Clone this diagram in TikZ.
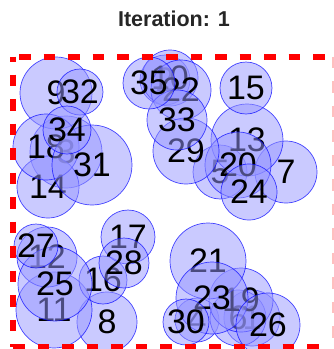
\documentclass[tikz,border=0pt]{standalone}
\usepackage{fontspec}
\setmainfont{Liberation Sans}
\definecolor{discfill}{RGB}{150,150,255}
\begin{document}
\begin{tikzpicture}[x=1pt,y=-1pt,
  disc/.style={circle, inner sep=0pt, minimum size=#1, draw=blue, draw opacity=0.7,
               fill=discfill, fill opacity=0.5, line width=0.7pt},
  lbl/.style={font=\fontsize{34}{34}\selectfont, inner sep=0pt, text=black},
  edge/.style={red, line width=6pt, dash pattern=on 11.5pt off 13pt}]
\useasboundingbox (0,0) rectangle (334,349);
% title
\node[font=\bfseries\fontsize{21.5}{21.5}\selectfont, anchor=base, text=black!85] (title) at (174,26.7) {Iteration: 1};
% discs, each followed by its number
\foreach \n/\x/\y/\r in {
  1/252/318/28, 2/165/80/25, 3/66/152/36, 4/197/320/22, 5/220/172/27,
  6/238/318/28, 7/286/172/31, 8/107/322/30, 9/56/93/36, 10/170/78/28,
  11/54/310/38, 12/47/257/30, 13/247/140/36, 14/48/187/31, 15/246/88/26,
  16/103/280/24, 17/128/237/27, 18/46/147/33, 19/241/300/32, 20/238/165/33,
  21/208/261/38, 22/181/90/30, 23/212/298/36, 24/249/192/28, 25/55/284/37,
  26/268/325/32, 27/36/246/22, 28/124/263/25, 29/186/151/33, 30/186/322/23,
  31/92/165/40, 32/80/92/23, 33/177/120/30, 34/67/130/24, 35/149/83/26} {
  \node[disc=2*\r pt] (c\n) at (\x,\y) {};
  \node[lbl] (l\n) at (\x,\y) {\n};
}
% dashed frame
\coordinate (tl) at (13,56.5);
\coordinate (tr) at (331,56.5);
\coordinate (bl) at (13,347);
\coordinate (br) at (331,347);
\coordinate (rt) at (333,56.5);
\coordinate (rb) at (333,347);
\draw[edge, dash phase=18.5pt] (tl) -- (tr);
\draw[edge, dash phase=6.5pt] (tl) -- (bl);
\draw[edge] (bl) -- (br);
\draw[red!25, line width=2pt, dash pattern=on 11.5pt off 13pt] (rt) -- (rb);
\end{tikzpicture}
\end{document}
